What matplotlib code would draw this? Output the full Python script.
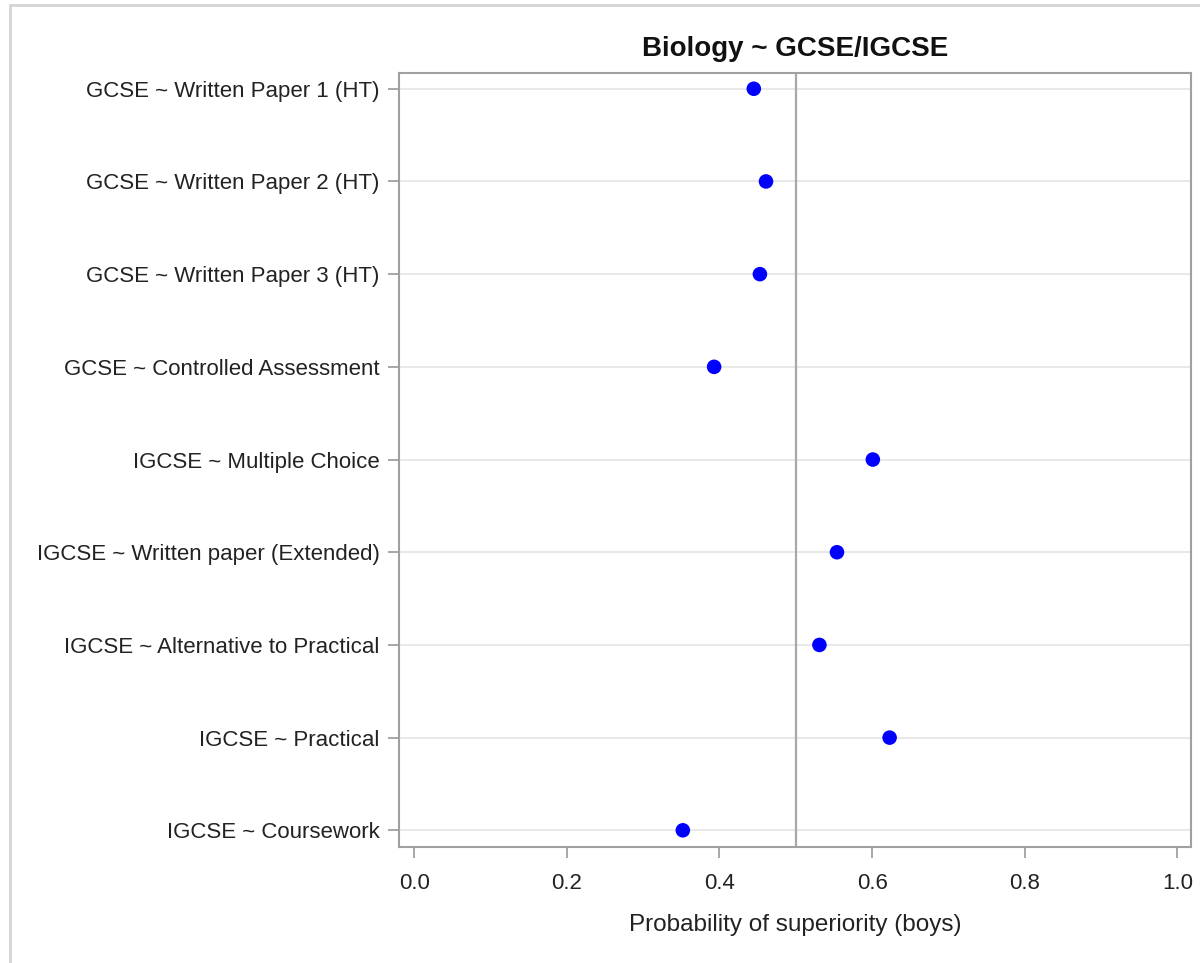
import matplotlib
matplotlib.use("Agg")
import matplotlib.pyplot as plt
from matplotlib.patches import Rectangle

plt.rcParams['font.family'] = ['Liberation Sans', 'DejaVu Sans']

components = [
    "GCSE ~ Written Paper 1 (HT)",
    "GCSE ~ Written Paper 2 (HT)",
    "GCSE ~ Written Paper 3 (HT)",
    "GCSE ~ Controlled Assessment",
    "IGCSE ~ Multiple Choice",
    "IGCSE ~ Written paper (Extended)",
    "IGCSE ~ Alternative to Practical",
    "IGCSE ~ Practical",
    "IGCSE ~ Coursework",
]
prob_superiority = [0.445, 0.461, 0.453, 0.393, 0.601, 0.554, 0.531, 0.623, 0.352]
x_ticks = [0.0, 0.2, 0.4, 0.6, 0.8, 1.0]
x_tick_labels = ["0.0", "0.2", "0.4", "0.6", "0.8", "1.0"]
reference_value = 0.5

W, H = 1200, 963
fig = plt.figure(figsize=(W / 100, H / 100), dpi=100)

# outer frame around the graph area
fig.patches.append(Rectangle((10 / W, -0.1), 1.2, 1.1 - 5 / H, transform=fig.transFigure,
                             fill=False, edgecolor="#d4d4d4", linewidth=2.0))

left, right, top, bottom = 399, 1191, 73, 847
ax = fig.add_axes([left / W, 1 - bottom / H, (right - left) / W, (bottom - top) / H])

ypos = list(range(len(components)))
for y in ypos:
    ax.axhline(y, color="#e6e6e6", linewidth=1.3, zorder=1)
ax.axvline(reference_value, color="#a8a8a8", linewidth=1.6, zorder=2)
ax.scatter(prob_superiority, ypos, s=110, color="#0000ff", edgecolors="none", zorder=3)

ax.set_xlim(-0.02, 1.018)
ax.set_ylim(len(components) - 1 + 0.18, -0.17)
ax.set_yticks(ypos)
ax.set_yticklabels(components)
ax.set_xticks(x_ticks)
ax.set_xticklabels(x_tick_labels)

for s in ax.spines.values():
    s.set_color("#a0a0a0")
    s.set_linewidth(1.5)
ax.tick_params(axis="both", colors="#a0a0a0", length=8, width=1.3,
               labelcolor="#222222", labelsize=16)
ax.tick_params(axis="x", pad=11)
ax.tick_params(axis="y", pad=6)

ax.set_xlabel("Probability of superiority (boys)", fontsize=17.5, color="#222222", labelpad=14)
ax.set_title("Biology ~ GCSE/IGCSE", fontsize=20, fontweight="bold", color="#111111", pad=12)

fig.savefig("out.png", dpi=100, facecolor="white")
